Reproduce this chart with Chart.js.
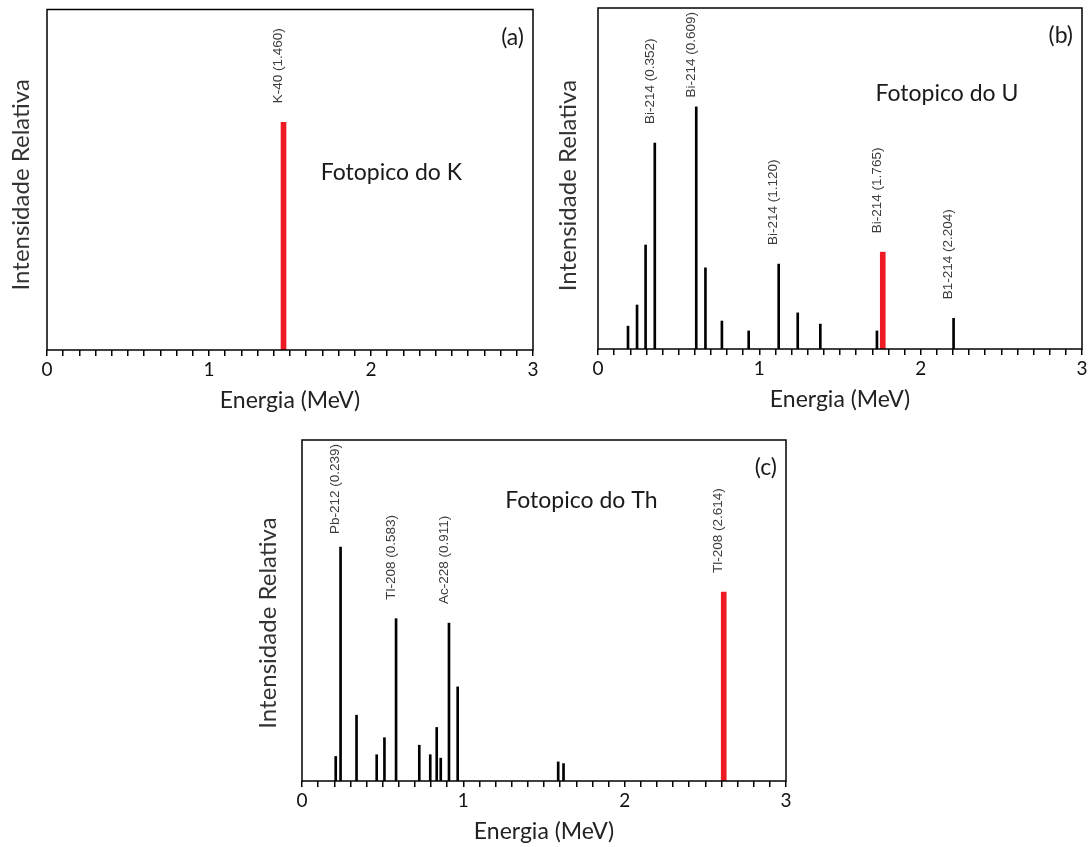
<!DOCTYPE html>
<html>
<head>
<meta charset="utf-8">
<script src="https://cdn.jsdelivr.net/npm/chart.js@4.4.1/dist/chart.umd.min.js"></script>
<style>
    body { margin: 0; background: #fff; width: 1090px; height: 847px; position: relative; overflow: hidden; }
    canvas { position: absolute; }
</style>
</head>
<body>
<canvas id="graficaK" width="545" height="420" style="left:0px;top:0px"></canvas>
<canvas id="graficaU" width="545" height="420" style="left:545px;top:0px"></canvas>
<canvas id="graficaTh" width="550" height="417" style="left:250px;top:430px"></canvas>
<script>
// eje x (MeV)
let marcasEje = [0, 1, 2, 3];

// (a) potasio
let energiasK = [];
let intensidadesK = [];
let fotopicoK = [1.460];
let intensidadFotopicoK = [66.9];
let rotuloEnergiasK = [1.460];
let rotulosK = ["K-40 (1.460)"];

// (b) uranio
let energiasU = [0.186, 0.242, 0.295, 0.352, 0.609, 0.666, 0.768, 0.934, 1.120, 1.238, 1.378, 1.729, 2.204];
let intensidadesU = [6.7, 12.9, 30.5, 60.4, 71.0, 23.8, 8.2, 5.3, 24.9, 10.6, 7.3, 5.3, 9.0];
let fotopicoU = [1.765];
let intensidadFotopicoU = [28.4];
let rotuloEnergiasU = [0.352, 0.609, 1.120, 1.765, 2.204];
let rotulosU = ["Bi-214 (0.352)", "Bi-214 (0.609)", "Bi-214 (1.120)", "Bi-214 (1.765)", "B1-214 (2.204)"];

// (c) torio
let energiasTh = [0.209, 0.239, 0.338, 0.463, 0.511, 0.583, 0.727, 0.795, 0.835, 0.860, 0.911, 0.965, 1.588, 1.621];
let intensidadesTh = [7.2, 68.6, 19.3, 7.7, 12.7, 47.6, 10.5, 7.7, 15.7, 6.7, 46.3, 27.6, 5.6, 5.1];
let fotopicoTh = [2.614];
let intensidadFotopicoTh = [55.4];
let rotuloEnergiasTh = [0.239, 0.583, 0.911, 2.614];
let rotulosTh = ["Pb-212 (0.239)", "Tl-208 (0.583)", "Ac-228 (0.911)", "Tl-208 (2.614)"];

const decoracion = {
    id: "decoracion",
    afterDraw(chart, args, op) {
        const { ctx, chartArea: a, scales: { x, y } } = chart;
        ctx.save();

        // marco
        ctx.strokeStyle = "#000";
        ctx.lineWidth = 1.5;
        ctx.strokeRect(a.left, a.top, a.right - a.left, a.bottom - a.top);

        // rotulos de picos
        ctx.font = '13.5px "Liberation Sans", Arial, sans-serif';
        ctx.fillStyle = "#3c3c3c";
        ctx.textAlign = "left";
        ctx.textBaseline = "middle";
        op.rotulos.forEach(r => {
            let px = x.getPixelForValue(r.e);
            let topo = y.getPixelForValue(r.i);
            let w = ctx.measureText(r.texto).width;
            let base = topo - 19;
            if (base - w < a.top + 4) base = a.top + 4 + w;
            ctx.save();
            ctx.translate(px - 5, base);
            ctx.rotate(-Math.PI / 2);
            ctx.fillText(r.texto, 0, 0);
            ctx.restore();
        });

        // titulo eje y
        ctx.font = "24px Lato, sans-serif";
        ctx.fillStyle = "#333";
        ctx.textAlign = "center";
        ctx.save();
        ctx.translate(a.left + op.yDx, (a.top + a.bottom) / 2 + op.yDy);
        ctx.rotate(-Math.PI / 2);
        ctx.fillText("Intensidade Relativa", 0, 0);
        ctx.restore();

        // fotopico
        ctx.font = "23px Lato, sans-serif";
        ctx.fillStyle = "#1a1a1a";
        ctx.textAlign = "left";
        ctx.fillText(op.nota, x.getPixelForValue(op.notaX), y.getPixelForValue(op.notaY));

        // letra del panel
        ctx.textAlign = "right";
        ctx.fillText(op.letra, a.right - 9, a.top + 28);
        ctx.restore();
    }
};

function puntos(xs, ys) {
    return xs.map((v, i) => ({ x: v, y: ys[i] }));
}

function generarGrafica(id, energias, intensidades, fotopico, intensidadFotopico, rotuloEnergias, rotulos, extra) {
    let todasE = energias.concat(fotopico);
    let todasI = intensidades.concat(intensidadFotopico);
    let listaRotulos = rotuloEnergias.map((e, i) => {
        let k = todasE.indexOf(e);
        return { e: e, i: todasI[k], texto: rotulos[i] };
    });

    new Chart(document.getElementById(id).getContext("2d"), {
        type: "bar",
        data: {
            datasets: [
                { data: puntos(energias, intensidades), backgroundColor: "#000", barThickness: 2, grouped: false },
                { data: puntos(fotopico, intensidadFotopico), backgroundColor: "#ed1c24", barThickness: 5, grouped: false }
            ]
        },
        options: {
            responsive: false,
            animation: false,
            devicePixelRatio: 1,
            layout: { padding: extra.padding },
            plugins: {
                legend: { display: false },
                tooltip: { enabled: false },
                decoracion: {
                    rotulos: listaRotulos,
                    yDx: extra.yDx,
                    yDy: extra.yDy,
                    nota: extra.nota,
                    notaX: extra.notaX,
                    notaY: extra.notaY,
                    letra: extra.letra
                }
            },
            scales: {
                x: {
                    type: "linear",
                    min: 0,
                    max: 3,
                    offset: false,
                    grid: { display: true, offset: false, drawOnChartArea: false, drawTicks: true, tickLength: 6, color: "#000", lineWidth: 1.5 },
                    border: { display: false },
                    ticks: {
                        stepSize: 0.1,
                        autoSkip: false,
                        maxRotation: 0,
                        padding: 2,
                        color: "#111",
                        font: { family: "Lato", size: 19 },
                        callback: v => {
                            let r = Math.round(v * 10) / 10;
                            return marcasEje.includes(r) ? String(r) : "";
                        }
                    },
                    title: { display: true, text: "Energia (MeV)", color: "#222", font: { family: "Lato", size: 23 }, padding: 0 },
                    afterFit: s => { s.height = 64; }
                },
                y: { type: "linear", min: 0, max: 100, display: false }
            }
        },
        plugins: [decoracion]
    });
}

generarGrafica("graficaK", energiasK, intensidadesK, fotopicoK, intensidadFotopicoK, rotuloEnergiasK, rotulosK,
    { padding: { left: 47, right: 12, top: 9.5, bottom: 6 }, yDx: -26, yDy: 5, nota: "Fotopico do K", notaX: 1.69, notaY: 52.2, letra: "(a)" });

generarGrafica("graficaU", energiasU, intensidadesU, fotopicoU, intensidadFotopicoU, rotuloEnergiasU, rotulosU,
    { padding: { left: 53, right: 8, top: 8, bottom: 7 }, yDx: -30, yDy: 7, nota: "Fotopico do U", notaX: 1.72, notaY: 74.8, letra: "(b)" });

generarGrafica("graficaTh", energiasTh, intensidadesTh, fotopicoTh, intensidadFotopicoTh, rotuloEnergiasTh, rotulosTh,
    { padding: { left: 52, right: 14, top: 10, bottom: 2 }, yDx: -34, yDy: 12.5, nota: "Fotopico do Th", notaX: 1.26, notaY: 82.3, letra: "(c)" });
</script>
</body>
</html>
